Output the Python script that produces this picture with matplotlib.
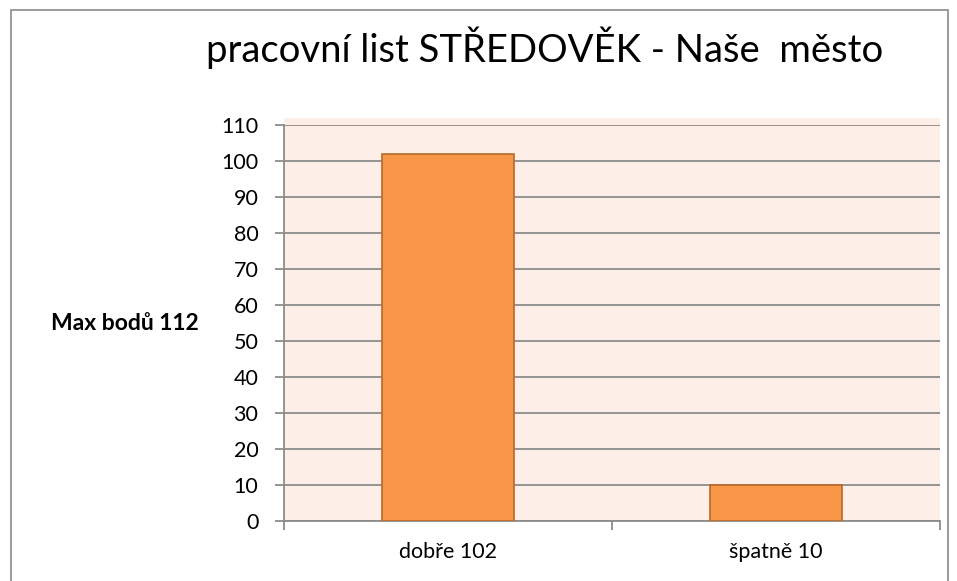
import matplotlib
matplotlib.use("Agg")
import matplotlib.pyplot as plt
from matplotlib.patches import Rectangle

categories = ["dobře 102", "špatně 10"]
values = [102, 10]
yticks = list(range(0, 111, 10))
title = "pracovní list STŘEDOVĚK - Naše  město"
ylabel = "Max bodů 112"

plt.rcParams['font.family'] = ['Lato', 'DejaVu Sans']

W, H = 957, 581
fig = plt.figure(figsize=(W / 100, H / 100), dpi=100)

# outer chart border
border = Rectangle((11 / W, -0.05), (948 - 11) / W, 1.05 - 10 / H,
                   transform=fig.transFigure, fill=False,
                   edgecolor="#8a8a8a", linewidth=1.2, zorder=0)
fig.add_artist(border)

x0, x1 = 284 / W, 940 / W
y0, y1 = 1 - 521 / H, 1 - 125 / H
# plot-area background extending slightly above the top gridline
bg = Rectangle((x0, y0), x1 - x0, (1 - 118 / H) - y0,
               transform=fig.transFigure, facecolor="#fdeee8",
               edgecolor="none", zorder=0)
fig.add_artist(bg)

ax = fig.add_axes([x0, y0, x1 - x0, y1 - y0])
ax.set_zorder(5)
ax.set_facecolor("none")
xs = list(range(len(categories)))
ax.bar(xs, values, width=0.4, color="#f79646", edgecolor="#b66a2c", linewidth=1.2, zorder=3)
ax.set_xlim(-0.5, len(categories) - 0.5)
ax.set_ylim(0, 110)
ax.set_yticks(yticks)
ax.set_yticklabels([str(t) for t in yticks], fontsize=15.5)
ax.yaxis.grid(True, color="#8c8c8c", linewidth=1.3, zorder=1)
ax.set_axisbelow(True)

ax.set_xticks([i - 0.5 for i in range(len(categories) + 1)])
ax.set_xticklabels([])
ax.set_xticks(xs, minor=True)
ax.set_xticklabels(categories, minor=True, fontsize=15.5)
ax.tick_params(axis="x", which="minor", length=0, pad=15)
ax.tick_params(axis="x", which="major", length=6.5, color="#8c8c8c", width=1.3)
ax.tick_params(axis="y", length=6.5, color="#8c8c8c", width=1.3, pad=12)

for s in ["top", "right"]:
    ax.spines[s].set_visible(False)
for s in ["left", "bottom"]:
    ax.spines[s].set_color("#8c8c8c")
    ax.spines[s].set_linewidth(1.3)

fig.text(125 / W, 1 - 323 / H, ylabel, ha="center", va="center",
         fontsize=16.5, fontweight="bold")
fig.text(545 / W, 1 - 48 / H, title, ha="center", va="center", fontsize=27.5)

fig.savefig("out.png", dpi=100)
